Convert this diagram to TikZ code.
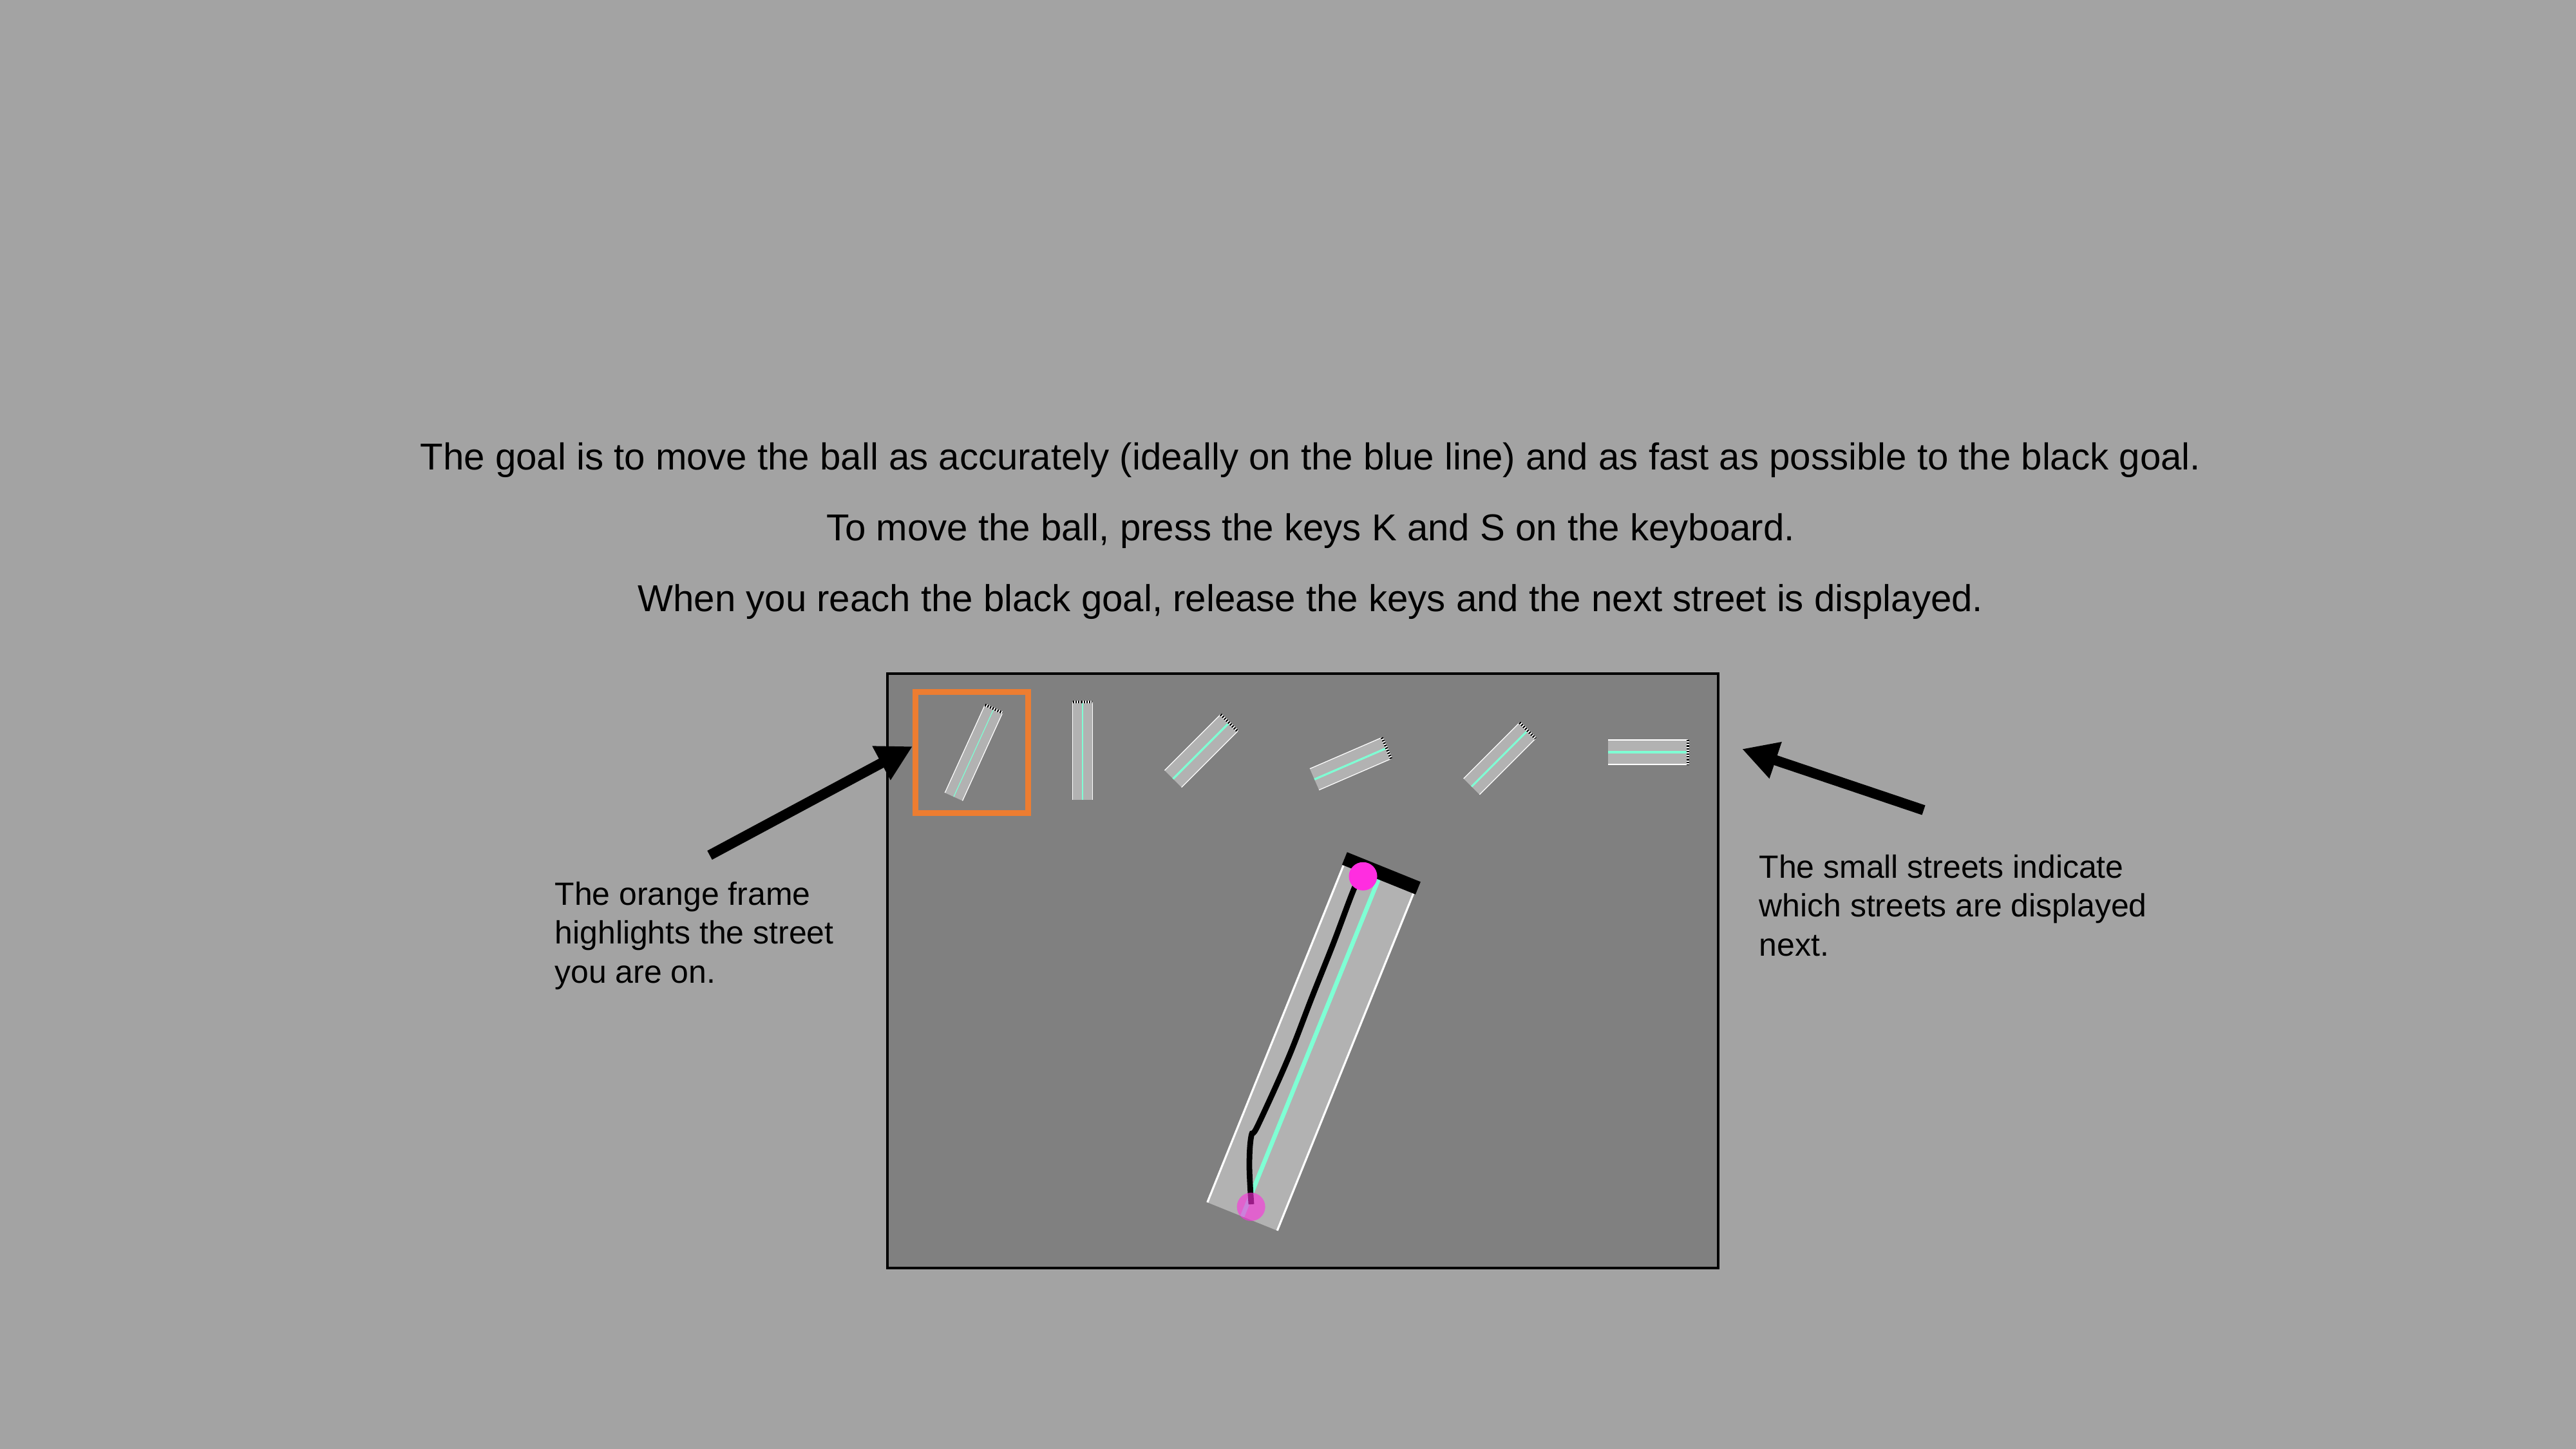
\documentclass[tikz,border=0pt]{standalone}
\usepackage{fontspec}
\setmainfont{Liberation Sans}
\usetikzlibrary{arrows.meta, positioning, calc}

\begin{document}
\begin{tikzpicture}[
    every node/.style={font=\rmfamily},
]

% ---------------------------------------------------------------- colours
\definecolor{bg}{HTML}{A3A3A3}      % the slide
\definecolor{screen}{HTML}{808080}  % the game window
\definecolor{road}{HTML}{B2B2B2}
\definecolor{ideal}{HTML}{7FFFD4}   % the blue line
\definecolor{ballc}{HTML}{FF2DE0}
\definecolor{curorange}{HTML}{ED7D31}

% ================================================================
%   slide 40 x 22.5, one unit = 100 px of the 4000 x 2250 slide
%   game window x in [13.78, 26.68], y in [2.81, 12.04]
%   preview row of six small streets at y ~ 10.8
%   big street: axis tilted 22 deg from vertical, length 5.645, width 1.17
% ================================================================

\tikzset{
    intro/.style={font=\fontsize{16.55}{31.3}\selectfont, align=center,
        inner sep=0pt},
    note/.style={font=\fontsize{14.2}{17.1}\selectfont, align=left,
        inner sep=0pt, anchor=north west},
    window/.style={draw=black, line width=1pt, fill=screen,
        minimum width=12.9cm, minimum height=9.23cm, inner sep=0pt},
    curframe/.style={draw=curorange, line width=0.09cm,
        minimum width=1.75cm, minimum height=1.88cm, inner sep=0pt},
    pointer/.style={draw=black, line width=4.5pt,
        -{Triangle[length=5.5mm, width=5.6mm]}},
    edge/.style={draw=white, line width=0.9pt},
    track/.style={draw=black, line width=2.5pt},
    ball/.style={circle, fill=ballc, minimum size=0.44cm, inner sep=0pt},
}

\fill[bg] (0,0) rectangle (40,22.5);
\useasboundingbox (0,0) rectangle (40,22.5);

% ---------------------------------------------------------------- instructions
\node[intro, anchor=north] (task) at (20.35,15.63)
    {The goal is to move the ball as accurately (ideally on the blue line) and as fast as possible to the black goal.\\
     To move the ball, press the keys K and S on the keyboard.\\
     When you reach the black goal, release the keys and the next street is displayed.};

% ---------------------------------------------------------------- the game window
\node[window] (win) at (20.23,7.425) {};
\node[curframe] (cur) at (15.09,10.815) {};

% small streets: centre / rotation / length / width / blue line width
\foreach \cx/\cy/\rot/\len/\wid/\lw in {
        15.12/10.81/-24.5/1.50/0.30/0.35,
        16.81/10.84/0/1.52/0.305/0.35,
        18.65/10.84/-45/1.23/0.37/0.9,
        20.97/10.64/-66.6/1.22/0.36/0.9,
        23.285/10.72/-45/1.23/0.35/0.9,
        25.59/10.82/-90/1.24/0.38/0.9} {
    \pgfmathsetmacro{\hw}{\wid/2}
    \pgfmathsetmacro{\hl}{\len/2}
    \begin{scope}[shift={(\cx,\cy)}, rotate=\rot]
        \fill[road] (-\hw,-\hl) rectangle (\hw,\hl);
        \draw[white, line width=0.35pt] (-\hw,-\hl) -- (-\hw,\hl)
            (\hw,-\hl) -- (\hw,\hl);
        \draw[ideal, line width=\lw pt] (0,-\hl) -- (0,\hl);
        \draw[white, line width=1.2pt] (-\hw,\hl) -- (\hw,\hl);
        \draw[black, line width=1.2pt, dash pattern=on 0.6pt off 0.6pt]
            (-\hw,\hl) -- (\hw,\hl);
    \end{scope}
}

% the street you are on
\begin{scope}[shift={(19.29,3.61)}, rotate=-22]
    \fill[road] (-0.585,0) rectangle (0.585,5.645);
    \draw[edge] (-0.585,0) -- (-0.585,5.645);
    \draw[edge] (0.585,0) -- (0.585,5.645);
    \draw[ideal, line width=1.9pt] (0,0) -- (0,5.645);
    \fill[black] (-0.61,5.645) rectangle (0.62,5.855);
    \coordinate (startpt) at (0.07,0.19);
    \coordinate (goalpt) at (-0.24,5.6);
\end{scope}

\draw[track] plot[smooth, tension=0.6] coordinates {(19.43,3.80) (19.40,4.40)
    (19.43,4.86) (19.53,5.02) (20.00,6.06) (20.37,7.01) (20.70,7.84)
    (21.03,8.71) (21.13,8.84)};

\node[ball, fill opacity=0.6] (ballstart) at (startpt) {};
\node[ball] (ballgoal) at (goalpt) {};

% ---------------------------------------------------------------- annotations
\node[note] (leftnote) at (8.61,8.81)
    {The orange frame\\highlights the street\\you are on.};
\node[note] (rightnote) at (27.31,9.23)
    {The small streets indicate\\which streets are displayed\\next.};

\coordinate (ltail) at (11.02,9.22);
\coordinate (rtail) at (29.87,9.92);
\coordinate (rtip) at (27.05,10.87);

\draw[pointer] (ltail) -- ([yshift=0.95mm]cur.west);
\draw[pointer] (rtail) -- (rtip);

\end{tikzpicture}
\end{document}
